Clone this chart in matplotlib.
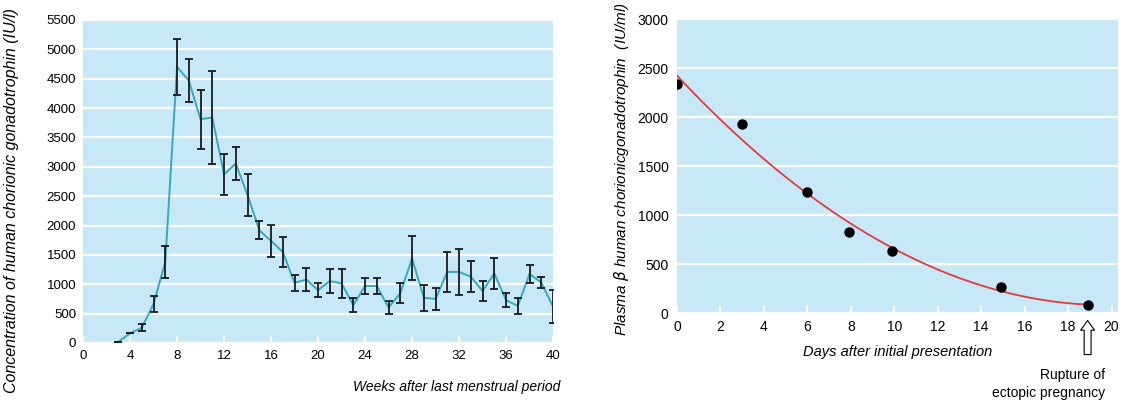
import numpy as np
import matplotlib
matplotlib.use("Agg")
import matplotlib.pyplot as plt

plt.rcParams['font.family'] = ['Liberation Sans Narrow', 'Liberation Sans', 'DejaVu Sans']

# ---- Left chart data ----
weeks = list(range(3, 41))
hcg_mean = [20, 165, 260, 663, 1380, 4700, 4470, 3810, 3840, 2870, 3055, 2520, 1920, 1740,
            1550, 1025, 1080, 900, 1055, 1015, 645, 970, 970, 605, 845, 1440, 770, 750,
            1210, 1210, 1130, 885, 1185, 730, 630, 1175, 1030, 620]
hcg_err = [0, 0, 55, 135, 270, 470, 360, 505, 790, 345, 285, 350, 155, 270,
           255, 135, 195, 115, 210, 250, 120, 140, 140, 115, 170, 375, 220, 185,
           335, 395, 270, 170, 270, 120, 135, 150, 95, 285]
left_xticks = list(range(0, 41, 4))
left_yticks = list(range(0, 5501, 500))

# ---- Right chart data ----
days = [0, 3, 6, 7.9, 9.9, 14.9, 18.9]
plasma = [2340, 1932, 1241, 826, 639, 265, 85]
right_xticks = list(range(0, 21, 2))
right_yticks = list(range(0, 3001, 500))

BG = '#c6e8f7'
TEAL = '#36a9bd'
RED = '#e23a3f'

fig = plt.figure(figsize=(11.25, 4.03), dpi=100)

# Left axes
ax1 = fig.add_axes([0.0738, 0.1489, 0.4178, 0.8015])
ax1.set_facecolor(BG)
ax1.plot(weeks, hcg_mean, color=TEAL, lw=1.4, zorder=3)
ax1.errorbar(weeks, hcg_mean, yerr=hcg_err, fmt='none', ecolor='#1a1a1a',
             elinewidth=1.3, capsize=2.8, capthick=1.3, zorder=4)
ax1.set_xlim(0, 40)
ax1.set_ylim(0, 5500)
ax1.set_xticks(left_xticks)
ax1.set_yticks(left_yticks)
ax1.yaxis.grid(True, color='white', lw=1.6)
ax1.set_axisbelow(True)
for s in ax1.spines.values():
    s.set_visible(False)
ax1.tick_params(axis='y', length=0, labelsize=9.5, pad=5)
ax1.tick_params(axis='x', direction='in', length=5, width=1.5, color='white',
                labelsize=9.5, pad=5)
ax1.set_ylabel('Concentration of human chorionic gonadotrophin (IU/l)',
               fontsize=11.5, style='italic')
ax1.yaxis.set_label_coords(-0.137, 0.44)
ax1.text(1.015, -0.135, 'Weeks after last menstrual period', transform=ax1.transAxes,
         ha='right', va='center', fontsize=10, style='italic')

# Right axes
ax2 = fig.add_axes([0.6018, 0.2226, 0.392, 0.7295])
ax2.set_facecolor(BG)
coef = np.polyfit(days, plasma, 2)
xs = np.linspace(0, max(days), 200)
ax2.plot(xs, np.polyval(coef, xs), color=RED, lw=1.3, zorder=3)
ax2.plot(days, plasma, 'o', color='black', ms=6.5, zorder=4)
ax2.set_xlim(0, 20.3)
ax2.set_ylim(0, 3000)
ax2.set_xticks(right_xticks)
ax2.set_yticks(right_yticks)
ax2.yaxis.grid(True, color='white', lw=1.6)
ax2.set_axisbelow(True)
for s in ax2.spines.values():
    s.set_visible(False)
ax2.tick_params(axis='y', length=0, labelsize=10, pad=6)
ax2.tick_params(axis='x', direction='in', length=5, width=1.5, color='white',
                labelsize=10, pad=5)
ax2.set_ylabel('Plasma $\\beta$ human chorionicgonadotrophin  (IU/ml)', fontsize=11,
               style='italic')
ax2.yaxis.set_label_coords(-0.105, 0.49)
ax2.set_xlabel('Days after initial presentation', fontsize=10.5, style='italic', labelpad=8)
ax2.annotate('', xy=(18.9, -45), xytext=(18.9, -450), annotation_clip=False,
             arrowprops=dict(arrowstyle='simple,head_width=1.0,head_length=0.7,tail_width=0.5',
                             fc='white', ec='black', lw=0.8))
ax2.text(19.7, -560, 'Rupture of\nectopic pregnancy', ha='right', va='top',
         fontsize=10, linespacing=1.35)

fig.savefig('out.png', dpi=100)
